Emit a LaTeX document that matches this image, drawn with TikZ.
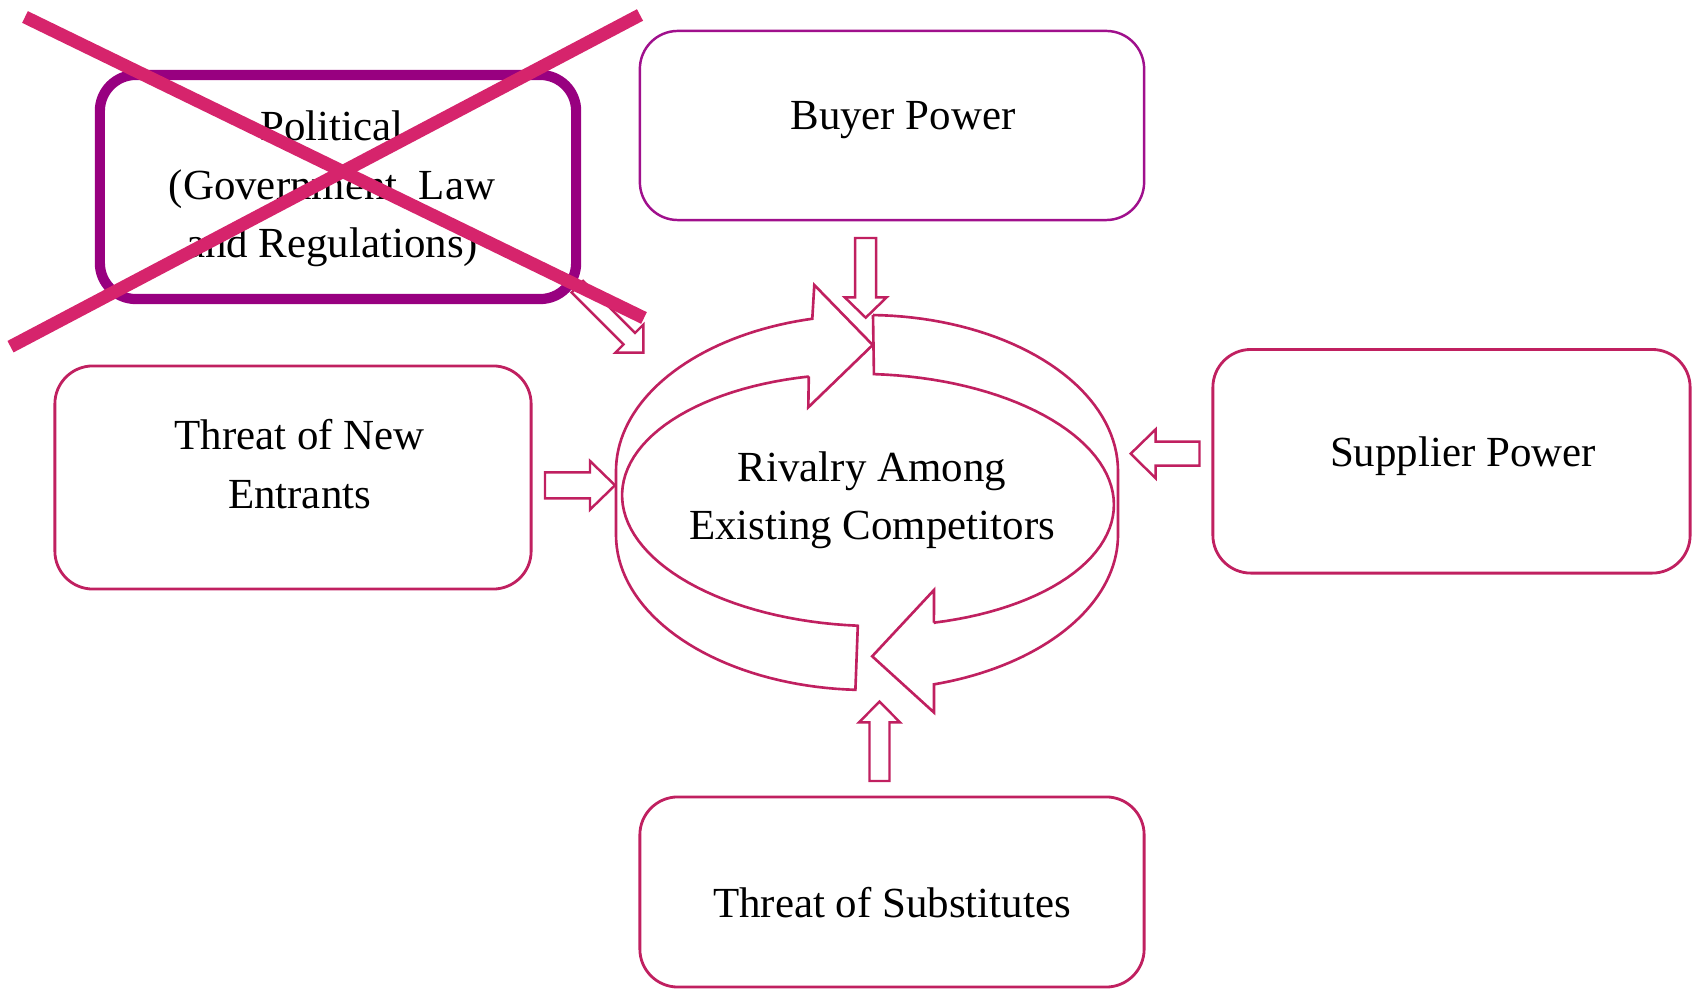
\documentclass[tikz,border=0pt]{standalone}
\usepackage{fontspec}
\setmainfont{Liberation Serif}
\definecolor{linepink}{RGB}{192,32,96}
\definecolor{crosspink}{RGB}{214,36,108}
\definecolor{polpurple}{RGB}{152,0,128}
\definecolor{buyerpurple}{RGB}{160,16,140}
\tikzset{
  card/.style={draw=linepink, line width=0.8pt, rounded corners=0.38cm, inner sep=0pt},
  lbl/.style={font=\fontsize{12.2}{16.6}\selectfont, inner sep=0pt, align=center},
  blockarrow/.style={draw=linepink, line width=0.7pt, fill=white, line join=miter},
  ring/.style={draw=linepink, line width=0.75pt, line join=miter},
  cross/.style={draw=crosspink, line width=3.7pt, line cap=butt}
}
\begin{document}
\begin{tikzpicture}[x=0.01cm, y=-0.01cm]
\useasboundingbox (0,0) rectangle (1696,989);

% the four outer forces
\node[card, draw=buyerpurple, line width=0.7pt, minimum width=5.04cm, minimum height=1.89cm] (buyer) at (892,125.5) {};
\node[card, minimum width=4.76cm, minimum height=2.23cm] (entrants) at (293,477.5) {};
\node[card, minimum width=4.77cm, minimum height=2.235cm] (supplier) at (1451.5,461.3) {};
\node[card, minimum width=5.04cm, minimum height=1.90cm] (substitutes) at (892,892) {};

% block arrows pointing at the centre
\draw[blockarrow] (855.2,238) -- (855.2,297.3) -- (844.7,297.3) -- (865.7,317.7)
  -- (886.7,297.3) -- (876.2,297.3) -- (876.2,238) -- cycle;
\draw[blockarrow] (869.5,781) -- (869.5,722.3) -- (859,722.3) -- (879.5,701.7)
  -- (900,722.3) -- (889.5,722.3) -- (889.5,781) -- cycle;
\draw[blockarrow] (545,472.3) -- (590,472.3) -- (590,461) -- (615,485.3)
  -- (590,509.6) -- (590,498.3) -- (545,498.3) -- cycle;
\draw[blockarrow] (1199.5,441.7) -- (1155.7,441.7) -- (1155.7,429.3) -- (1130.7,453.7)
  -- (1155.7,478.3) -- (1155.7,465.7) -- (1199.5,465.7) -- cycle;

% circular arrows: left half rising to the top
\draw[ring] (857.8,625.8) -- (855.4,689.8)
  -- plot[domain=92.65:180, samples=40] ({867+251*cos(\x)},{535+155*sin(\x)})
  -- (616,471)
  -- plot[domain=180:257.41, samples=40] ({867+251*cos(\x)},{471+156*sin(\x)})
  -- (814.3,285) -- (872.7,345) -- (808.3,407.3) -- (808.8,376.5)
  -- plot[domain=0:1, samples=60]
     ({868+245.9*cos(255.3-163.7*\x)-3.30*sin(255.3-163.7*\x)},
      {500+6.44*cos(255.3-163.7*\x)+125.96*sin(255.3-163.7*\x)})
  -- cycle;
% right half running down to the bottom
\draw[ring] (873,315)
  -- plot[domain=271.37:360, samples=40] ({867+251*cos(\x)},{471+156*sin(\x)})
  -- (1118,535)
  -- plot[domain=0:74.52, samples=40] ({867+251*cos(\x)},{535+155*sin(\x)})
  -- (934,712.5) -- (872.2,656.3) -- (934,590) -- (933.9,622.7)
  -- plot[domain=0:1, samples=60]
     ({868+245.9*cos(73.7-163.2*\x)-3.30*sin(73.7-163.2*\x)},
      {500+6.44*cos(73.7-163.2*\x)+125.96*sin(73.7-163.2*\x)})
  -- cycle;

% political force, struck out
\draw[blockarrow] (571.5,292.5) -- (623.5,344.5) -- (615.3,352.7) -- (643.3,352.7)
  -- (643.3,324.7) -- (635.1,332.9) -- (583.1,280.9) -- cycle;
\node[card, draw=polpurple, line width=2.9pt, fill=white, rounded corners=0.36cm,
      minimum width=4.76cm, minimum height=2.24cm] (political) at (338,187) {};

% labels
\node[lbl, anchor=base] (buyer-t) at (903,130) {Buyer Power};
\node[lbl] (entrants-t) at (299.6,464) {Threat of New\\Entrants};
\node[lbl, anchor=base] (supplier-t) at (1463,466.7) {Supplier Power};
\node[lbl, anchor=base] (substitutes-t) at (892,917.3) {Threat of Substitutes};
\node[lbl] (rivalry) at (872,500) {Rivalry Among\\Existing Competitors};
\node[lbl] (political-t) at (332,189) {Political\\(Government, Law\\and Regulations)};

% strike-through cross
\coordinate (x1a) at (25,17);
\coordinate (x1b) at (644,318);
\coordinate (x2a) at (640,15);
\coordinate (x2b) at (10.5,346.7);
\draw[cross] (x1a) -- (x1b);
\draw[cross] (x2a) -- (x2b);
\end{tikzpicture}
\end{document}
